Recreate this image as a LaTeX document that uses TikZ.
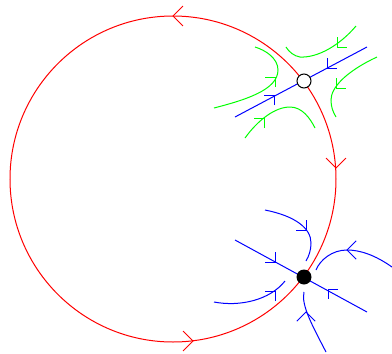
\documentclass[tikz,border=0pt]{standalone}
\newcommand\vhead[4][10]{\draw[#2] (#3) ++(#4+135:#1) -- (#3) -- ++(#4-135:#1);}
\begin{document}
\begin{tikzpicture}[x=1pt,y=-1pt,line width=1pt,
  orbit/.style={red},
  bl/.style={blue},
  gr/.style={green},
  saddlept/.style={circle,draw=black,fill=white,minimum size=14pt,inner sep=0pt,line width=1pt},
  sinkpt/.style={circle,fill=black,minimum size=15pt,inner sep=0pt}]
\useasboundingbox (0,0) rectangle (392,354);
% limit cycle
\draw[orbit] (173,179) circle [radius=163pt];
\vhead[14]{orbit}{173,16}{180}
\vhead[14]{orbit}{336,168}{90}
\vhead[14]{orbit}{193,341}{0}
% saddle manifold
\draw[bl] (235,117) -- (367,47);
\vhead{bl}{274,95}{-45}
\vhead{bl}{327,68}{135}
% green trajectories near saddle
\draw[gr] (356,26) .. controls (340,45) and (318,58) .. (300,57) .. controls (294,56) and (289,52) .. (286,47);
\vhead{gr}{337,47}{135}
\draw[gr] (214,108) .. controls (245,100) and (278,90) .. (278,70) .. controls (278,58) and (265,50) .. (255,47);
\vhead{gr}{275,77}{-45}
\draw[gr] (377,57) .. controls (345,72) and (331,88) .. (331,100) .. controls (331,107) and (333,112) .. (336,117);
\vhead{gr}{336,88}{135}
\draw[gr] (245,138) .. controls (258,120) and (275,107) .. (290,107) .. controls (302,107) and (310,118) .. (315,128);
\vhead{gr}{264,118}{-45}
% stable node trajectories
\draw[bl] (235,240) -- (367,312);
\vhead{bl}{275,262}{45}
\vhead{bl}{328,289}{-135}
\draw[bl] (265,210) .. controls (295,216) and (311,228) .. (311,243) .. controls (311,250) and (309,256) .. (306,261);
\vhead{bl}{306,230}{45}
\draw[bl] (392,267) .. controls (375,255) and (360,250) .. (347,250) .. controls (332,250) and (320,260) .. (316,270);
\vhead[13]{bl}{347,250}{180}
\draw[bl] (214,302) .. controls (240,307) and (270,300) .. (285,281);
\vhead{bl}{275,291}{-45}
\draw[bl] (326,352) .. controls (312,325) and (301,305) .. (304,292);
\vhead[13]{bl}{306,312}{-90}
% equilibria
\node[saddlept] (saddle) at (304,81) {};
\node[sinkpt] (sink) at (304,277) {};
\end{tikzpicture}
\end{document}
